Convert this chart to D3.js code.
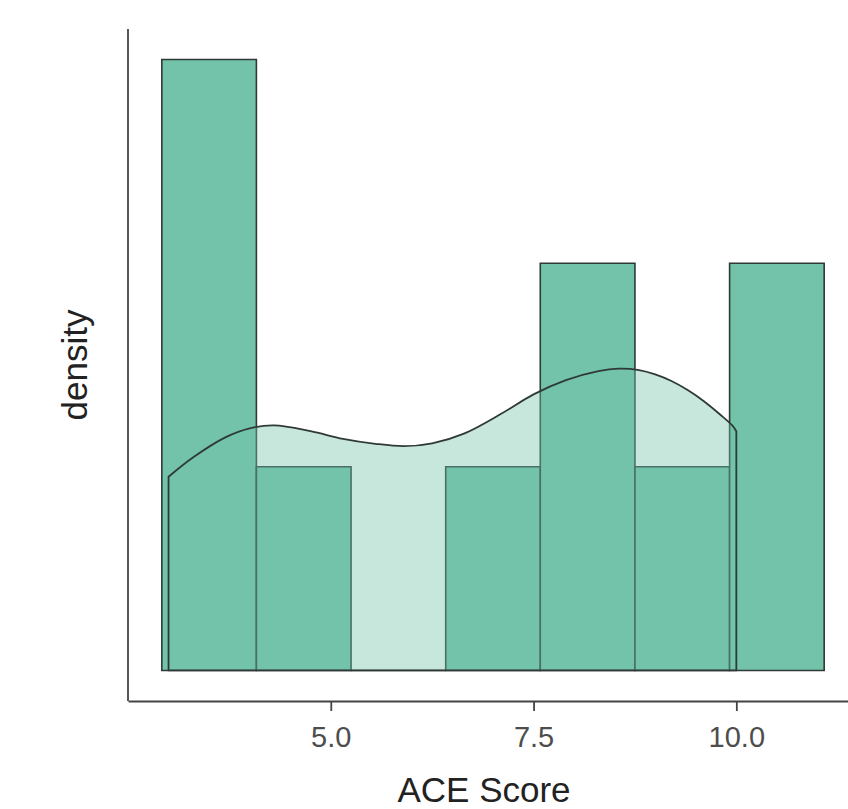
<!DOCTYPE html>
<html>
<head>
<meta charset="utf-8">
<script src="https://cdn.jsdelivr.net/npm/d3@7"></script>
<style>
  html, body { margin: 0; padding: 0; background: #fff; }
  svg { display: block; font-family: "Liberation Sans", Arial, Helvetica, sans-serif; }
</style>
</head>
<body>
<svg id="chart" width="848" height="809"></svg>
<script>
// Histogram bins of ACE score (density scale)
const binEdges = [2.917, 4.083, 5.25, 6.417, 7.583, 8.75, 9.917, 11.083];
const binDensity = [0.2571, 0.0857, 0, 0.0857, 0.1714, 0.0857, 0.1714];

// Kernel density estimate of ACE score
const kdeX = [3.0, 3.3, 3.7, 4.0, 4.3, 4.75, 5.15, 5.55, 5.9, 6.25, 6.65, 7.1, 7.5, 7.9, 8.3, 8.55, 8.8, 9.0, 9.2, 9.4, 9.6, 9.8, 9.95, 10.0];
const kdeY = [0.0815, 0.0896, 0.0981, 0.1019, 0.1031, 0.1007, 0.0975, 0.0954, 0.0944, 0.0956, 0.0998, 0.1080, 0.1162, 0.1222, 0.1260, 0.1270, 0.1264, 0.1246, 0.1218, 0.1180, 0.1133, 0.1077, 0.1031, 0.1007];

// Axis ticks
const xTicks = [5.0, 7.5, 10.0];

const fillColor = "#72c3aa";
const lineColor = "#2f3a37";

const svg = d3.select("#chart");
const panel = { left: 128, right: 858, top: 29, bottom: 701 };

const maxD = d3.max(binDensity);
const x = d3.scaleLinear().domain([2.5, 11.5]).range([panel.left, panel.right]);
const y = d3.scaleLinear().domain([-0.05 * maxD, 1.05 * maxD]).range([panel.bottom, panel.top]);

// Bars
const bins = binDensity.map((d, i) => ({ x0: binEdges[i], x1: binEdges[i + 1], d }));
svg.append("g")
  .selectAll("path")
  .data(bins)
  .join("path")
  .attr("d", b => {
    const x0 = x(b.x0), x1 = x(b.x1), y0 = y(0), y1 = y(b.d);
    return `M${x0},${y0}V${y1}H${x1}V${y0}Z`;
  })
  .attr("fill", fillColor)
  .attr("stroke", lineColor)
  .attr("stroke-width", 1.6)
  .attr("stroke-linejoin", "miter");

// Density area with full outline
const pts = kdeX.map((v, i) => [v, kdeY[i]]);
const kdeLine = d3.line().x(p => x(p[0])).y(p => y(p[1])).curve(d3.curveCatmullRom.alpha(0.5));
const upperPath = kdeLine(pts);
const areaPath = `M${x(kdeX[0])},${y(0)}L` + upperPath.slice(1) + `L${x(kdeX[kdeX.length - 1])},${y(0)}Z`;
svg.append("path")
  .attr("d", areaPath)
  .attr("fill", fillColor)
  .attr("fill-opacity", 0.4)
  .attr("stroke", lineColor)
  .attr("stroke-width", 1.8)
  .attr("stroke-linejoin", "round");

// Axes
const axisColor = "#444";
const xAxis = d3.axisBottom(x)
  .tickValues(xTicks)
  .tickFormat(d3.format(".1f"))
  .tickSizeInner(10)
  .tickSizeOuter(0)
  .tickPadding(15);
const gx = svg.append("g").attr("transform", `translate(0,${panel.bottom})`).call(xAxis);
gx.select(".domain").attr("stroke", axisColor).attr("stroke-width", 1.8);
gx.selectAll(".tick line").attr("stroke", axisColor).attr("stroke-width", 1.8);
gx.selectAll(".tick text")
  .attr("fill", "#4d4d4d")
  .attr("font-size", 29)
  .attr("font-family", "Liberation Sans, Arial, sans-serif");

svg.append("line")
  .attr("x1", panel.left).attr("x2", panel.left)
  .attr("y1", panel.top).attr("y2", panel.bottom)
  .attr("stroke", axisColor).attr("stroke-width", 1.8);

// Axis titles
svg.append("text")
  .attr("x", 484).attr("y", 802)
  .attr("text-anchor", "middle")
  .attr("font-size", 35)
  .attr("fill", "#222")
  .text("ACE Score");

svg.append("text")
  .attr("transform", `translate(87,${(panel.top + panel.bottom) / 2}) rotate(-90)`)
  .attr("text-anchor", "middle")
  .attr("font-size", 35)
  .attr("fill", "#222")
  .text("density");
</script>
</body>
</html>
